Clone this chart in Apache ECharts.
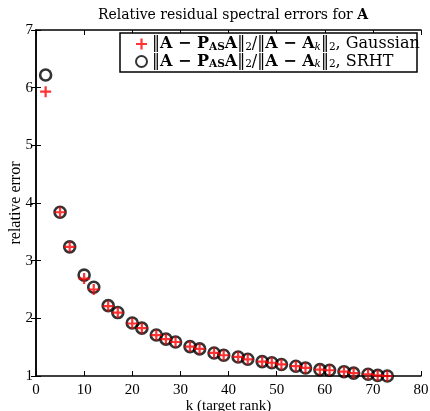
<!DOCTYPE html>
<html>
<head>
<meta charset="utf-8">
<script src="https://cdn.jsdelivr.net/npm/echarts@6/dist/echarts.min.js"></script>
<style>
  html, body { margin: 0; padding: 0; background: #fff; }
  #chart { width: 430px; height: 411px; }
</style>
</head>
<body>
<div id="chart"></div>
<script>
// target ranks
const ranks = [2, 5, 7, 10, 12, 15, 17, 20, 22, 25, 27, 29, 32, 34, 37, 39, 42, 44, 47, 49, 51, 54, 56, 59, 61, 64, 66, 69, 71, 73];
// relative errors, Gaussian sketch
const gaussian = [5.93, 3.84, 3.24, 2.69, 2.50, 2.21, 2.10, 1.91, 1.83, 1.71, 1.64, 1.59, 1.51, 1.47, 1.40, 1.36, 1.33, 1.29, 1.25, 1.23, 1.20, 1.17, 1.14, 1.11, 1.10, 1.075, 1.05, 1.03, 1.01, 1.0];
// relative errors, SRHT sketch
const srht = [6.22, 3.84, 3.24, 2.75, 2.54, 2.22, 2.10, 1.92, 1.83, 1.71, 1.64, 1.59, 1.51, 1.47, 1.40, 1.36, 1.33, 1.29, 1.25, 1.23, 1.20, 1.17, 1.14, 1.11, 1.10, 1.075, 1.05, 1.03, 1.01, 1.0];
const xTicks = { min: 0, max: 80, step: 10 };
const yTicks = { min: 1, max: 7, step: 1 };

const serif = '"Liberation Serif", "DejaVu Serif", serif';
const wide = '"DejaVu Serif", serif';
const plusPath = 'path://M4,0H6V4H10V6H6V10H4V6H0V4H4Z';

const legendRich = {
  n: { fontFamily: wide, fontSize: 16, color: '#000', lineHeight: 18 },
  b: { fontFamily: wide, fontSize: 16, fontWeight: 'bold', color: '#000', lineHeight: 18 },
  bs: { fontFamily: wide, fontSize: 10.5, fontWeight: 'bold', color: '#000', padding: [6, 0, 0, 0] },
  s: { fontFamily: wide, fontSize: 10.5, color: '#000', padding: [6, 0, 0, 0] },
  si: { fontFamily: wide, fontSize: 10.5, fontStyle: 'italic', color: '#000', padding: [6, 0, 0, 0] }
};
function legendText(name) {
  return '{n|‖}{b|A − P}{bs|AS}{b|A}{n|‖}{s|2}{n|/‖}{b|A − A}{si|k}{n|‖}{s|2}{n|, ' + name + '}';
}

const chart = echarts.init(document.getElementById('chart'));

const axisLine = { show: true, lineStyle: { color: '#000', width: 1.5 } };
const tickIn = { show: true, inside: true, length: 5, lineStyle: { color: '#000', width: 1 } };
const tickLabel = { fontFamily: serif, fontSize: 15, color: '#000' };

chart.setOption({
  animation: false,
  backgroundColor: '#fff',
  title: {
    text: '{n|Relative residual spectral errors for }{b|A}',
    left: 228, top: 3, textAlign: 'center',
    textStyle: {
      rich: {
        n: { fontFamily: wide, fontSize: 14, fontWeight: 'normal', color: '#000' },
        b: { fontFamily: wide, fontSize: 14, fontWeight: 'bold', color: '#000' }
      }
    }
  },
  grid: { left: 36, right: 9, top: 30, bottom: 35, outerBoundsMode: 'none' },
  graphic: [{
    type: 'rect', z: 50,
    shape: { x: 120, y: 33, width: 297, height: 39 },
    style: { fill: '#fff', stroke: '#000', lineWidth: 1.5 }
  }],
  legend: {
    orient: 'vertical',
    left: 135, top: 36, z: 60,
    padding: 0,
    itemGap: 1,
    itemWidth: 11, itemHeight: 11,
    data: [
      { name: 'Gaussian', icon: plusPath },
      { name: 'SRHT', icon: 'circle' }
    ],
    formatter: legendText,
    textStyle: { rich: legendRich }
  },
  xAxis: [
    {
      type: 'value', min: xTicks.min, max: xTicks.max, interval: xTicks.step,
      name: 'k (target rank)', nameLocation: 'middle', nameGap: 23, nameMoveOverlap: false,
      nameTextStyle: { fontFamily: serif, fontSize: 15, color: '#000' },
      axisLine: axisLine, axisTick: tickIn,
      axisLabel: Object.assign({ margin: 7 }, tickLabel),
      splitLine: { show: false }
    },
    {
      type: 'value', position: 'top', min: xTicks.min, max: xTicks.max, interval: xTicks.step,
      axisLine: axisLine, axisTick: tickIn, axisLabel: { show: false }, splitLine: { show: false }
    }
  ],
  yAxis: [
    {
      type: 'value', min: yTicks.min, max: yTicks.max, interval: yTicks.step,
      name: 'relative error', nameLocation: 'middle', nameGap: 12, nameMoveOverlap: false,
      nameTextStyle: { fontFamily: serif, fontSize: 16, color: '#000' },
      axisLine: axisLine, axisTick: tickIn,
      axisLabel: Object.assign({ margin: 3 }, tickLabel),
      splitLine: { show: false }
    },
    {
      type: 'value', position: 'right', min: yTicks.min, max: yTicks.max, interval: yTicks.step,
      axisLine: axisLine, axisTick: tickIn, axisLabel: { show: false }, splitLine: { show: false }
    }
  ],
  series: [
    {
      name: 'SRHT', type: 'scatter', clip: false, z: 2,
      symbol: 'circle', symbolSize: 11,
      itemStyle: { color: 'rgba(255,255,255,0)', borderColor: '#000', borderWidth: 2.6 },
      data: ranks.map((k, i) => [k, srht[i]])
    },
    {
      name: 'Gaussian', type: 'scatter', clip: false, z: 3,
      symbol: plusPath, symbolSize: 11,
      itemStyle: { color: '#ff0000' },
      data: ranks.map((k, i) => [k, gaussian[i]])
    }
  ]
});
</script>
</body>
</html>
